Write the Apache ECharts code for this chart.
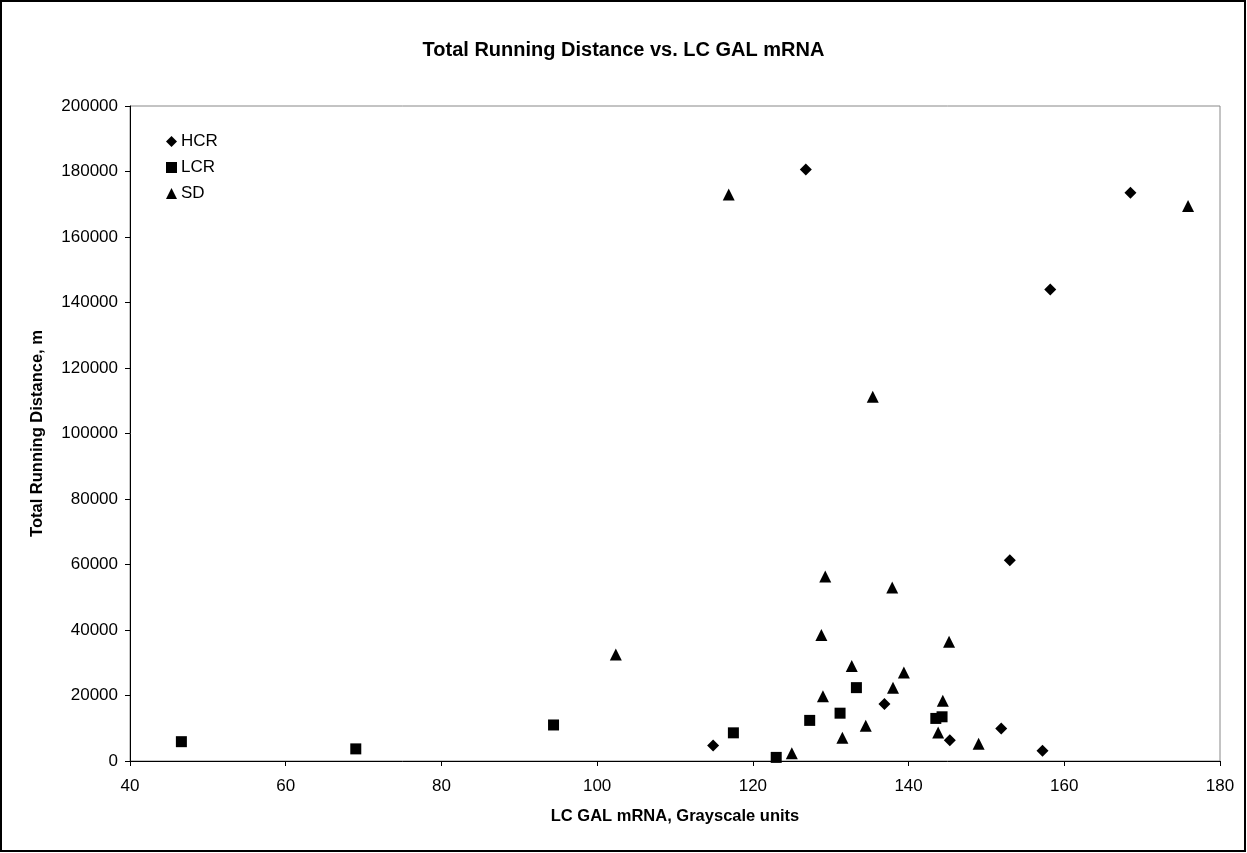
<!DOCTYPE html>
<html>
<head>
<meta charset="utf-8">
<script src="https://cdn.jsdelivr.net/npm/echarts@6/dist/echarts.min.js"></script>
<style>
html,body{margin:0;padding:0;background:#fff;}
#chart{width:1247px;height:853px;}
</style>
</head>
<body>
<div id="chart"></div>
<script>
const titleText = 'Total Running Distance vs. LC GAL mRNA';
const xAxisName = 'LC GAL mRNA, Grayscale units';
const yAxisName = 'Total Running Distance, m';

const hcrX = [114.9, 126.8, 136.9, 145.3, 151.9, 153.0, 157.2, 158.2, 168.5];
const hcrY = [4700, 180600, 17400, 6300, 9900, 61300, 3100, 144000, 173500];

const lcrX = [46.6, 69.0, 94.4, 117.5, 123.0, 127.3, 131.2, 133.3, 143.5, 144.3];
const lcrY = [5900, 3700, 11000, 8600, 1100, 12400, 14600, 22400, 13000, 13500];

const sdX = [102.4, 116.9, 125.0, 128.8, 129.0, 129.3, 131.5, 132.7, 134.5, 135.4, 137.9, 138.0, 139.4, 143.8, 144.4, 145.2, 149.0, 175.9];
const sdY = [32500, 173000, 2400, 38500, 19800, 56300, 7100, 29000, 10800, 111200, 53000, 22400, 27000, 8700, 18400, 36400, 5300, 169500];

const zip = (xs, ys) => xs.map((x, i) => [x, ys[i]]);

const chart = echarts.init(document.getElementById('chart'));
const font = 'Liberation Sans, Arial, sans-serif';
const diamondPath = 'path://M0,-1 L1,0 L0,1 L-1,0 Z';
chart.setOption({
  backgroundColor: '#fff',
  animation: false,
  title: {
    text: titleText,
    left: 'center',
    top: 35,
    textStyle: {fontFamily: font, fontSize: 20, fontWeight: 'bold', color: '#000'}
  },
  legend: {
    orient: 'vertical',
    left: 166,
    top: 133,
    padding: 0,
    itemWidth: 11,
    itemHeight: 11,
    itemGap: 9,
    textStyle: {fontFamily: font, fontSize: 17, color: '#000', padding: [0, 0, 0, -1]},
    data: [
      {name: 'HCR', icon: diamondPath, itemStyle: {color: '#000', opacity: 1}},
      {name: 'LCR', icon: 'rect', itemStyle: {color: '#000', opacity: 1}},
      {name: 'SD', icon: 'triangle', itemStyle: {color: '#000', opacity: 1}}
    ]
  },
  grid: {
    left: 130, right: 27, top: 106, bottom: 92,
    show: true, borderColor: '#888', borderWidth: 1, backgroundColor: '#fff'
  },
  xAxis: {
    type: 'value', min: 40, max: 180, interval: 20,
    name: xAxisName, nameLocation: 'middle', nameGap: 47,
    nameTextStyle: {fontFamily: font, fontSize: 16.5, fontWeight: 'bold', color: '#000', verticalAlign: 'top'},
    axisLine: {show: true, onZero: false, lineStyle: {color: '#000', width: 1}},
    axisTick: {show: true, inside: false, length: 5, lineStyle: {color: '#000'}},
    axisLabel: {fontFamily: font, fontSize: 17, color: '#000', margin: 17},
    splitLine: {show: false}
  },
  yAxis: {
    type: 'value', min: 0, max: 200000, interval: 20000,
    name: yAxisName, nameLocation: 'middle', nameGap: 84,
    nameTextStyle: {fontFamily: font, fontSize: 16.5, fontWeight: 'bold', color: '#000'},
    axisLine: {show: true, onZero: false, lineStyle: {color: '#000', width: 1}},
    axisTick: {show: true, inside: false, length: 5, lineStyle: {color: '#000'}},
    axisLabel: {fontFamily: font, fontSize: 17, color: '#000', margin: 12, formatter: v => String(v)},
    splitLine: {show: false}
  },
  series: [
    {name: 'HCR', type: 'scatter', symbol: diamondPath, symbolSize: 12,
     itemStyle: {color: '#000', opacity: 1}, data: zip(hcrX, hcrY)},
    {name: 'LCR', type: 'scatter', symbol: 'rect', symbolSize: 11,
     itemStyle: {color: '#000', opacity: 1}, data: zip(lcrX, lcrY)},
    {name: 'SD', type: 'scatter', symbol: 'triangle', symbolSize: 12,
     itemStyle: {color: '#000', opacity: 1}, data: zip(sdX, sdY)}
  ],
  graphic: [{
    type: 'rect', silent: true, z: 100,
    shape: {x: 1, y: 1, width: 1244, height: 850},
    style: {fill: 'none', stroke: '#000', lineWidth: 2}
  }]
});
</script>
</body>
</html>
